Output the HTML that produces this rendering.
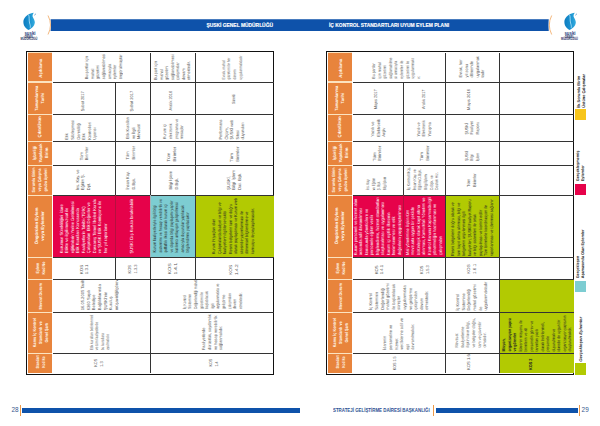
<!DOCTYPE html>
<html><head><meta charset="utf-8"><title>İç Kontrol Standartları Uyum Eylem Planı</title>
<style>
html,body{margin:0;padding:0;background:#fff;}
body{width:600px;height:426px;position:relative;overflow:hidden;font-family:"Liberation Sans",sans-serif;}
.rot{position:absolute;transform:rotate(-90deg);display:flex;align-items:center;box-sizing:border-box;white-space:nowrap;text-rendering:geometricPrecision;}
.t{font-size:4.3px;line-height:5.6px;color:#585858;}
.t>div{transform:scaleX(0.9);transform-origin:0 50%;}
.w{font-size:4.4px;line-height:5.5px;color:#fff;}
.w>div{transform:scaleX(0.9);transform-origin:0 50%;}
.h{font-size:4.3px;line-height:6px;color:#fffaf0;font-weight:bold;text-align:center;}
.h>div{transform:scaleX(0.85);}
.k{font-size:4.4px;line-height:5.5px;color:#222;}
.k>div{transform:scaleX(0.9);transform-origin:0 50%;}
.lg{font-size:4px;line-height:5px;color:#222;font-weight:bold;}
.lg>div{transform:scaleX(0.9);transform-origin:0 50%;}
</style></head><body>

<svg style="position:absolute;left:0;top:0" width="600" height="40" viewBox="0 0 600 40">
<path d="M50.6 19.2 Q51.4 25.1 50.6 31.1 L548.75 31.1 Q548.2 25.1 548.75 19.2 Z" fill="#0E52AA"/>
<path d="M48 15.5 Q53 25 48 34.5" stroke="#EE9A48" stroke-width="0.7" fill="none"/>
<path d="M551.7 15.5 Q546.9 25 551.7 34.5" stroke="#EE9A48" stroke-width="0.7" fill="none"/>
</svg>
<div style="position:absolute;left:150px;top:22.8px;width:123px;text-align:right;font:bold 5.2px/5px 'Liberation Sans',sans-serif;color:#fff;white-space:nowrap;transform:scaleX(0.944);transform-origin:100% 50%;-webkit-text-stroke:0.15px #fff">ŞUSKİ GENEL MÜDÜRLÜĞÜ</div>
<div style="position:absolute;left:328.9px;top:22.8px;width:160px;text-align:left;font:bold 5.2px/5px 'Liberation Sans',sans-serif;color:#fff;white-space:nowrap;transform:scaleX(0.946);transform-origin:0 50%;-webkit-text-stroke:0.15px #fff">İÇ KONTROL STANDARTLARI UYUM EYLEM PLANI</div>
<svg style="position:absolute;left:23px;top:11.5px" width="14" height="19" viewBox="0 0 14 19">
<defs><linearGradient id="lg23" x1="0" y1="0" x2="1" y2="0"><stop offset="0" stop-color="#0E7CC0"/><stop offset="0.55" stop-color="#1A92D0"/><stop offset="1" stop-color="#34ACDE"/></linearGradient></defs>
<path d="M10.8 0.7 C6.5 1.2 2.6 3.6 0.9 7.2 C-0.3 10 0.6 13.6 2.6 15.8 C3.5 16.8 4.4 17.6 5.4 18.1 C8.4 16.6 11.4 14.4 11.8 10.8 C12 8.6 10.6 6.8 9.8 5 C9.3 3.8 9.6 2 10.8 0.7 Z" fill="url(#lg23)"/>
<path d="M5.6 2.6 C6.6 5.2 5.8 8.4 6.6 11 C7.1 12.8 7.6 14.2 7.2 15.8" stroke="#CFF2FF" stroke-width="0.75" fill="none" opacity="0.95"/>
<path d="M11.4 3.2 Q12.3 2.2 12.9 2" stroke="#1F6FAF" stroke-width="0.7" fill="none"/>
</svg>
<div style="position:absolute;left:16.6px;top:31.9px;width:26px;text-align:center;font:bold 4.6px/4px 'Liberation Sans',sans-serif;color:#22407c;transform:scaleX(0.95)">şuski</div>
<div style="position:absolute;left:16px;top:36.9px;width:26px;text-align:center;font:bold 2.6px/2.6px 'Liberation Sans',sans-serif;color:#1f2f5c;letter-spacing:0px">GENEL MÜDÜRLÜĞÜ</div>
<svg style="position:absolute;left:563.5px;top:11.5px" width="14" height="19" viewBox="0 0 14 19">
<defs><linearGradient id="lg563" x1="0" y1="0" x2="1" y2="0"><stop offset="0" stop-color="#0E7CC0"/><stop offset="0.55" stop-color="#1A92D0"/><stop offset="1" stop-color="#34ACDE"/></linearGradient></defs>
<path d="M10.8 0.7 C6.5 1.2 2.6 3.6 0.9 7.2 C-0.3 10 0.6 13.6 2.6 15.8 C3.5 16.8 4.4 17.6 5.4 18.1 C8.4 16.6 11.4 14.4 11.8 10.8 C12 8.6 10.6 6.8 9.8 5 C9.3 3.8 9.6 2 10.8 0.7 Z" fill="url(#lg563)"/>
<path d="M5.6 2.6 C6.6 5.2 5.8 8.4 6.6 11 C7.1 12.8 7.6 14.2 7.2 15.8" stroke="#CFF2FF" stroke-width="0.75" fill="none" opacity="0.95"/>
<path d="M11.4 3.2 Q12.3 2.2 12.9 2" stroke="#1F6FAF" stroke-width="0.7" fill="none"/>
</svg>
<div style="position:absolute;left:557.1px;top:31.9px;width:26px;text-align:center;font:bold 4.6px/4px 'Liberation Sans',sans-serif;color:#22407c;transform:scaleX(0.95)">şuski</div>
<div style="position:absolute;left:556.5px;top:36.9px;width:26px;text-align:center;font:bold 2.6px/2.6px 'Liberation Sans',sans-serif;color:#1f2f5c;letter-spacing:0px">GENEL MÜDÜRLÜĞÜ</div>
<div style="position:absolute;left:22px;top:408px;width:278px;height:5px;background:#0E52AA"></div>
<div style="position:absolute;left:20.2px;top:405px;width:0.6px;height:11px;background:#EE9A48"></div>
<div style="position:absolute;left:4px;top:406.6px;width:14.6px;text-align:right;font:6.4px/6px 'Liberation Sans',sans-serif;color:#36598f">28</div>
<div style="position:absolute;left:436px;top:408px;width:141.5px;height:5px;background:#0E52AA"></div>
<div style="position:absolute;left:433.2px;top:405px;width:0.6px;height:11px;background:#EE9A48"></div>
<div style="position:absolute;left:579px;top:405px;width:0.6px;height:11px;background:#EE9A48"></div>
<div style="position:absolute;left:581.6px;top:406.6px;width:14px;text-align:left;font:6.4px/6px 'Liberation Sans',sans-serif;color:#36598f">29</div>
<div style="position:absolute;left:332.8px;top:409.3px;width:120px;font:bold 4.8px/4px 'Liberation Sans',sans-serif;color:#2d4f93;white-space:nowrap;transform:scaleX(0.917);transform-origin:0 50%">STRATEJİ GELİŞTİRME DAİRESİ BAŞKANLIĞI</div>
<div style="position:absolute;left:25.70px;top:50.70px;width:248.50px;height:324.30px;border:1.2px solid #111;box-sizing:border-box"></div>
<div style="position:absolute;left:27.90px;top:52.40px;width:24.50px;height:320.60px;background:#FCE3C0;"></div>
<div style="position:absolute;left:27.90px;top:52.60px;width:24.50px;height:28.90px;background:#E8843C;"></div>
<div class="rot h" style="left:26.51px;top:55.70px;width:28.90px;height:24.50px;padding-left:0px;justify-content:center;"><div style="transform:scaleX(0.994)">Açıklama</div></div>
<div style="position:absolute;left:27.90px;top:82.50px;width:24.50px;height:31.00px;background:#E8843C;"></div>
<div class="rot h" style="left:25.31px;top:85.60px;width:31.00px;height:24.50px;padding-left:0px;justify-content:center;"><div style="transform:scaleX(0.921)">Tamamlanma<br>Tarihi</div></div>
<div style="position:absolute;left:27.90px;top:114.50px;width:24.50px;height:26.00px;background:#E8843C;"></div>
<div class="rot h" style="left:27.06px;top:114.71px;width:26.00px;height:24.50px;padding-left:0px;justify-content:center;"><div style="transform:scaleX(1.029)">Çıktı/Ürün</div></div>
<div style="position:absolute;left:27.90px;top:141.50px;width:24.50px;height:23.00px;background:#E8843C;"></div>
<div class="rot h" style="left:29.77px;top:141.44px;width:23.00px;height:24.50px;padding-left:0px;justify-content:center;"><div style="transform:scaleX(0.962)">İşbirliği<br>Yapılacak<br>Birim</div></div>
<div style="position:absolute;left:27.90px;top:165.50px;width:24.50px;height:29.00px;background:#E8843C;"></div>
<div class="rot h" style="left:25.74px;top:167.54px;width:29.00px;height:24.50px;padding-left:0px;justify-content:center;"><div style="transform:scaleX(0.840)">Sorumlu Birim<br>veya Çalışma<br>grubu üyeleri</div></div>
<div style="position:absolute;left:27.90px;top:195.50px;width:24.50px;height:61.00px;background:#E8843C;"></div>
<div class="rot h" style="left:10.33px;top:214.38px;width:61.00px;height:24.50px;padding-left:0px;justify-content:center;"><div style="transform:scaleX(1.032)">Öngörülen Eylem<br>veya Eylemler</div></div>
<div style="position:absolute;left:27.90px;top:257.50px;width:24.50px;height:21.00px;background:#E8843C;"></div>
<div class="rot h" style="left:30.77px;top:256.26px;width:21.00px;height:24.50px;padding-left:0px;justify-content:center;"><div style="transform:scaleX(0.850)">Eylem<br>Kod No</div></div>
<div style="position:absolute;left:27.90px;top:279.50px;width:24.50px;height:32.00px;background:#E8843C;"></div>
<div class="rot h" style="left:25.05px;top:283.73px;width:32.00px;height:24.50px;padding-left:0px;justify-content:center;"><div style="transform:scaleX(0.879)">Mevcut Durum</div></div>
<div style="position:absolute;left:27.90px;top:312.50px;width:24.50px;height:40.00px;background:#E8843C;"></div>
<div class="rot h" style="left:21.05px;top:319.80px;width:40.00px;height:24.50px;padding-left:0px;justify-content:center;"><div style="transform:scaleX(0.874)">Kamu İç Kontrol<br>Standardı ve<br>Genel Şartı</div></div>
<div style="position:absolute;left:27.90px;top:353.50px;width:24.50px;height:19.00px;background:#E8843C;"></div>
<div class="rot h" style="left:32.00px;top:350.39px;width:19.00px;height:24.50px;padding-left:0px;justify-content:center;"><div style="transform:scaleX(0.751)">Standart<br>Kod No</div></div>
<div style="position:absolute;left:53.00px;top:195.00px;width:62.50px;height:62.00px;background:#E6024A;"></div>
<div style="position:absolute;left:115.50px;top:195.00px;width:35.00px;height:62.00px;background:#E6024A;"></div>
<div style="position:absolute;left:150.50px;top:195.00px;width:45.00px;height:62.00px;background:#7DCDD2;"></div>
<div style="position:absolute;left:195.50px;top:195.00px;width:78.10px;height:62.00px;background:#B2CA02;"></div>
<div style="position:absolute;left:53.00px;top:81.50px;width:220.60px;height:1px;background:#333333"></div>
<div style="position:absolute;left:53.00px;top:113.50px;width:220.60px;height:1px;background:#333333"></div>
<div style="position:absolute;left:53.00px;top:140.50px;width:220.60px;height:1px;background:#333333"></div>
<div style="position:absolute;left:53.00px;top:164.50px;width:220.60px;height:1px;background:#333333"></div>
<div style="position:absolute;left:53.00px;top:194.50px;width:220.60px;height:1px;background:#333333"></div>
<div style="position:absolute;left:53.00px;top:256.50px;width:220.60px;height:1px;background:#333333"></div>
<div style="position:absolute;left:53.00px;top:278.50px;width:220.60px;height:1px;background:#333333"></div>
<div style="position:absolute;left:53.00px;top:311.50px;width:220.60px;height:1px;background:#333333"></div>
<div style="position:absolute;left:53.00px;top:352.50px;width:220.60px;height:1px;background:#333333"></div>
<div style="position:absolute;left:150.00px;top:53.00px;width:1px;height:29.00px;background:#333333"></div>
<div style="position:absolute;left:195.00px;top:53.00px;width:1px;height:29.00px;background:#333333"></div>
<div style="position:absolute;left:115.00px;top:82.00px;width:1px;height:32.00px;background:#333333"></div>
<div style="position:absolute;left:150.00px;top:82.00px;width:1px;height:32.00px;background:#333333"></div>
<div style="position:absolute;left:195.00px;top:82.00px;width:1px;height:32.00px;background:#333333"></div>
<div style="position:absolute;left:115.00px;top:114.00px;width:1px;height:27.00px;background:#333333"></div>
<div style="position:absolute;left:150.00px;top:114.00px;width:1px;height:27.00px;background:#333333"></div>
<div style="position:absolute;left:195.00px;top:114.00px;width:1px;height:27.00px;background:#333333"></div>
<div style="position:absolute;left:115.00px;top:141.00px;width:1px;height:24.00px;background:#333333"></div>
<div style="position:absolute;left:150.00px;top:141.00px;width:1px;height:24.00px;background:#333333"></div>
<div style="position:absolute;left:195.00px;top:141.00px;width:1px;height:24.00px;background:#333333"></div>
<div style="position:absolute;left:115.00px;top:165.00px;width:1px;height:30.00px;background:#333333"></div>
<div style="position:absolute;left:150.00px;top:165.00px;width:1px;height:30.00px;background:#333333"></div>
<div style="position:absolute;left:195.00px;top:165.00px;width:1px;height:30.00px;background:#333333"></div>
<div style="position:absolute;left:115.00px;top:195.00px;width:1px;height:62.00px;background:#B5103F"></div>
<div style="position:absolute;left:150.00px;top:195.00px;width:1px;height:62.00px;background:#a9b3b8"></div>
<div style="position:absolute;left:195.00px;top:195.00px;width:1px;height:62.00px;background:#333333"></div>
<div style="position:absolute;left:115.00px;top:257.00px;width:1px;height:22.00px;background:#333333"></div>
<div style="position:absolute;left:150.00px;top:257.00px;width:1px;height:22.00px;background:#333333"></div>
<div style="position:absolute;left:195.00px;top:257.00px;width:1px;height:22.00px;background:#333333"></div>
<div style="position:absolute;left:150.00px;top:279.00px;width:1px;height:33.00px;background:#333333"></div>
<div style="position:absolute;left:150.00px;top:312.00px;width:1px;height:41.00px;background:#333333"></div>
<div style="position:absolute;left:150.00px;top:353.00px;width:1px;height:20.00px;background:#333333"></div>
<div class="rot t" style="left:89.23px;top:19.29px;width:29.00px;height:97.50px;padding-left:2.5px;justify-content:flex-start;"><div style="transform:scaleX(0.902)">Bu şartlar için<br>mahal<br>gözetimi<br>sağlanabilmesi<br>amacıyla<br>eylemler<br>öngörülmüştür</div></div>
<div class="rot t" style="left:158.23px;top:45.90px;width:29.00px;height:45.00px;padding-left:2.5px;justify-content:flex-start;"><div style="transform:scaleX(0.903)">Bu şart için<br>mahal<br>gözetimi<br>sağlanabilmesi<br>çalışmalar<br>devam<br>etmektedir.</div></div>
<div class="rot t" style="left:218.00px;top:29.35px;width:29.00px;height:78.10px;padding-left:2.5px;justify-content:flex-start;"><div style="transform:scaleX(0.758)">Evrak, mahal<br>gözetimi ile her<br>dönem<br>uygulanmaktadır</div></div>
<div class="rot t" style="left:67.17px;top:66.75px;width:32.00px;height:62.50px;padding-left:2.5px;justify-content:flex-start;"><div style="transform:scaleX(0.902)">Şubat 2017</div></div>
<div class="rot t" style="left:114.75px;top:80.50px;width:32.00px;height:35.00px;padding-left:2.5px;justify-content:flex-start;"><div style="transform:scaleX(0.938)">Şubat 2017</div></div>
<div class="rot t" style="left:154.12px;top:74.78px;width:32.00px;height:45.00px;padding-left:2.5px;justify-content:flex-start;"><div style="transform:scaleX(0.899)">Aralık 2016</div></div>
<div class="rot t" style="left:217.92px;top:51.66px;width:32.00px;height:78.10px;padding-left:2.5px;justify-content:flex-start;"><div style="transform:scaleX(0.772)">Sürekli</div></div>
<div class="rot t" style="left:68.29px;top:97.60px;width:27.00px;height:62.50px;padding-left:2.5px;justify-content:flex-start;"><div style="transform:scaleX(0.907)">Etik<br>Sözleşmesi<br>Gerekliliği<br>Etik<br>Kontrolleri<br>Uyarısı</div></div>
<div class="rot t" style="left:119.71px;top:111.35px;width:27.00px;height:35.00px;padding-left:2.5px;justify-content:flex-start;"><div style="transform:scaleX(0.905)">Etik Kuralları<br>ve İlgili<br>Mevzuat</div></div>
<div class="rot t" style="left:159.86px;top:106.35px;width:27.00px;height:45.00px;padding-left:2.5px;justify-content:flex-start;"><div style="transform:scaleX(0.844)">Kurum içi<br>elektronik<br>programa ve<br>mesajlar</div></div>
<div class="rot t" style="left:218.71px;top:89.80px;width:27.00px;height:78.10px;padding-left:2.5px;justify-content:flex-start;"><div style="transform:scaleX(0.900)">Performans<br>Ölçüm,<br>ŞUSKİ web<br>Sitesi<br>duyuruları</div></div>
<div class="rot t" style="left:71.59px;top:120.22px;width:24.00px;height:62.50px;padding-left:2.5px;justify-content:flex-start;"><div style="transform:scaleX(0.925)">Tüm<br>Birimler</div></div>
<div class="rot t" style="left:117.85px;top:133.07px;width:24.00px;height:35.00px;padding-left:2.5px;justify-content:flex-start;"><div style="transform:scaleX(0.929)">Tüm<br>Birimler</div></div>
<div class="rot t" style="left:159.20px;top:129.60px;width:24.00px;height:45.00px;padding-left:2.5px;justify-content:flex-start;"><div style="transform:scaleX(1.005)">Tüm<br>Birimler</div></div>
<div class="rot t" style="left:222.77px;top:113.95px;width:24.00px;height:78.10px;padding-left:2.5px;justify-content:flex-start;"><div style="transform:scaleX(1.062)">Tüm<br>Birimler</div></div>
<div class="rot t" style="left:68.11px;top:147.40px;width:30.00px;height:62.50px;padding-left:2.5px;justify-content:flex-start;"><div style="transform:scaleX(0.940)">İns. Kay. ve<br>Eğitim Ş.<br>Dpt.</div></div>
<div class="rot t" style="left:115.09px;top:159.80px;width:30.00px;height:35.00px;padding-left:2.5px;justify-content:flex-start;"><div style="transform:scaleX(0.903)">İnsan Kay.<br>D.Bşk.</div></div>
<div class="rot t" style="left:157.76px;top:154.80px;width:30.00px;height:45.00px;padding-left:2.5px;justify-content:flex-start;"><div style="transform:scaleX(0.945)">Bilgi İşlem<br>D.Bşk.</div></div>
<div class="rot t" style="left:219.25px;top:139.15px;width:30.00px;height:78.10px;padding-left:2.5px;justify-content:flex-start;"><div style="transform:scaleX(1.021)">ŞUSKİ,<br>Bilgi İşlem<br>Dai. Bşk.</div></div>
<div class="rot w" style="left:51.72px;top:194.30px;width:62.00px;height:62.50px;padding-left:2.5px;justify-content:flex-start;"><div style="transform:scaleX(0.934)">Kurumun Sürekliliğini İdare<br>Etikte ve ilgili mevzuat ile<br>eğitimlerin Yerine Getirilmesi<br>Etik Kuralları Konusunda<br>Faaliyetlerin Takibi (TÜİK)<br>Çalışmaları Etik Değerler ve<br>Davranış Temel İlkeleri Kurulu<br>ve ŞUSKİ Etik Komisyonu ile<br>her yıl raporlanır</div></div>
<div class="rot w" style="left:100.11px;top:208.14px;width:62.00px;height:35.00px;padding-left:2.5px;justify-content:flex-start;"><div style="transform:scaleX(0.953)">ŞUSKİ Dış Kurula bırakılabilir</div></div>
<div class="rot k" style="left:139.99px;top:202.24px;width:62.00px;height:45.00px;padding-left:2.5px;justify-content:flex-start;"><div style="transform:scaleX(0.833)">Kurum faaliyetleriyle ilgili bilgi<br>sistemine ve hesap verebilirlik ve<br>şeffaflık ilkesi olarak kurum içi<br>ve dışında bilgi paylaşımı yapılır<br>katılımcı anlayışın geliştirilmesi<br>amacıyla duyurular yapılacak<br>bilgilendirme yapılacaktır</div></div>
<div class="rot k" style="left:202.05px;top:187.22px;width:62.00px;height:78.10px;padding-left:2.5px;justify-content:flex-start;"><div style="transform:scaleX(0.835)">Kurum ihtiyaçları olan<br>Çalışmalarda faaliyet ve bilgi ve<br>faaliyetlerin ilgililerce takibi<br>Resmi belgelerin tam ve doğru<br>olarak paylaşılması ve Kurum web<br>sitesinde yayımlanması ile<br>dönemsel bilgilendirme ve<br>kamuoyu ile paylaşılmasıdır.</div></div>
<div class="rot t" style="left:73.04px;top:235.22px;width:22.00px;height:62.50px;padding-left:2.5px;justify-content:flex-start;"><div style="transform:scaleX(1.029)">KOS<br>1.3.1</div></div>
<div class="rot t" style="left:120.65px;top:248.07px;width:22.00px;height:35.00px;padding-left:2.5px;justify-content:flex-start;"><div style="transform:scaleX(0.945)">KOS<br>1.3.3</div></div>
<div class="rot t" style="left:161.01px;top:244.38px;width:22.00px;height:45.00px;padding-left:2.5px;justify-content:flex-start;"><div style="transform:scaleX(1.232)">KOS<br>1.4.1</div></div>
<div class="rot t" style="left:223.31px;top:227.83px;width:22.00px;height:78.10px;padding-left:2.5px;justify-content:flex-start;"><div style="transform:scaleX(1.120)">KOS<br>1.4.2</div></div>
<div class="rot t" style="left:83.00px;top:247.83px;width:33.00px;height:97.50px;padding-left:2.5px;justify-content:flex-start;"><div style="transform:scaleX(0.952)">16.05.2005 Tarih<br>6360 Sayılı<br>Belediye<br>Bağlılıklarında<br>ŞUSKİ'nin<br>Kuruluş<br>müşavirliği/görev</div></div>
<div class="rot t" style="left:195.55px;top:234.04px;width:33.00px;height:123.10px;padding-left:2.5px;justify-content:flex-start;"><div style="transform:scaleX(0.785)">İç Kontrol<br>Sistemine<br>Değerlendiği mahal<br>gözetimi ile<br>başlatılacak<br>ilgili<br>uygulanmakta ve<br>geliştirme<br>çalışmaları<br>devam<br>etmektedir.</div></div>
<div class="rot t" style="left:79.45px;top:284.47px;width:41.00px;height:97.50px;padding-left:2.5px;justify-content:flex-start;"><div style="transform:scaleX(0.762)">Etik kuralları belirlenmeli<br>ve tüm faaliyetlerde<br>bu kurallara<br>uyulmalıdır.</div></div>
<div class="rot t" style="left:192.00px;top:271.40px;width:41.00px;height:123.10px;padding-left:2.5px;justify-content:flex-start;"><div style="transform:scaleX(0.915)">Faaliyetlerde<br>dürüstlük, saydamlık<br>ve hesap verebilirlik<br>sağlanmalıdır.</div></div>
<div class="rot t" style="left:89.29px;top:311.10px;width:20.00px;height:97.50px;padding-left:2.5px;justify-content:flex-start;"><div style="transform:scaleX(0.889)">KOS<br>1.3</div></div>
<div class="rot t" style="left:204.30px;top:298.03px;width:20.00px;height:123.10px;padding-left:2.5px;justify-content:flex-start;"><div style="transform:scaleX(0.868)">KOS<br>1.4</div></div>
<div style="position:absolute;left:325.70px;top:50.70px;width:248.50px;height:324.30px;border:1.2px solid #111;box-sizing:border-box"></div>
<div style="position:absolute;left:327.90px;top:52.40px;width:24.50px;height:320.60px;background:#FCE3C0;"></div>
<div style="position:absolute;left:327.90px;top:52.60px;width:24.50px;height:28.90px;background:#E8843C;"></div>
<div class="rot h" style="left:326.51px;top:55.70px;width:28.90px;height:24.50px;padding-left:0px;justify-content:center;"><div style="transform:scaleX(0.994)">Açıklama</div></div>
<div style="position:absolute;left:327.90px;top:82.50px;width:24.50px;height:31.00px;background:#E8843C;"></div>
<div class="rot h" style="left:325.31px;top:85.60px;width:31.00px;height:24.50px;padding-left:0px;justify-content:center;"><div style="transform:scaleX(0.921)">Tamamlanma<br>Tarihi</div></div>
<div style="position:absolute;left:327.90px;top:114.50px;width:24.50px;height:26.00px;background:#E8843C;"></div>
<div class="rot h" style="left:327.06px;top:114.71px;width:26.00px;height:24.50px;padding-left:0px;justify-content:center;"><div style="transform:scaleX(1.029)">Çıktı/Ürün</div></div>
<div style="position:absolute;left:327.90px;top:141.50px;width:24.50px;height:23.00px;background:#E8843C;"></div>
<div class="rot h" style="left:329.77px;top:141.44px;width:23.00px;height:24.50px;padding-left:0px;justify-content:center;"><div style="transform:scaleX(0.962)">İşbirliği<br>Yapılacak<br>Birim</div></div>
<div style="position:absolute;left:327.90px;top:165.50px;width:24.50px;height:29.00px;background:#E8843C;"></div>
<div class="rot h" style="left:325.74px;top:167.54px;width:29.00px;height:24.50px;padding-left:0px;justify-content:center;"><div style="transform:scaleX(0.840)">Sorumlu Birim<br>veya Çalışma<br>grubu üyeleri</div></div>
<div style="position:absolute;left:327.90px;top:195.50px;width:24.50px;height:61.00px;background:#E8843C;"></div>
<div class="rot h" style="left:310.33px;top:214.38px;width:61.00px;height:24.50px;padding-left:0px;justify-content:center;"><div style="transform:scaleX(1.032)">Öngörülen Eylem<br>veya Eylemler</div></div>
<div style="position:absolute;left:327.90px;top:257.50px;width:24.50px;height:21.00px;background:#E8843C;"></div>
<div class="rot h" style="left:330.77px;top:256.26px;width:21.00px;height:24.50px;padding-left:0px;justify-content:center;"><div style="transform:scaleX(0.850)">Eylem<br>Kod No</div></div>
<div style="position:absolute;left:327.90px;top:279.50px;width:24.50px;height:32.00px;background:#E8843C;"></div>
<div class="rot h" style="left:325.05px;top:283.73px;width:32.00px;height:24.50px;padding-left:0px;justify-content:center;"><div style="transform:scaleX(0.879)">Mevcut Durum</div></div>
<div style="position:absolute;left:327.90px;top:312.50px;width:24.50px;height:40.00px;background:#E8843C;"></div>
<div class="rot h" style="left:321.05px;top:319.80px;width:40.00px;height:24.50px;padding-left:0px;justify-content:center;"><div style="transform:scaleX(0.874)">Kamu İç Kontrol<br>Standardı ve<br>Genel Şartı</div></div>
<div style="position:absolute;left:327.90px;top:353.50px;width:24.50px;height:19.00px;background:#E8843C;"></div>
<div class="rot h" style="left:332.00px;top:350.39px;width:19.00px;height:24.50px;padding-left:0px;justify-content:center;"><div style="transform:scaleX(0.751)">Standart<br>Kod No</div></div>
<div style="position:absolute;left:353.00px;top:195.00px;width:50.60px;height:62.00px;background:#E6024A;"></div>
<div style="position:absolute;left:403.60px;top:195.00px;width:41.90px;height:62.00px;background:#E6024A;"></div>
<div style="position:absolute;left:445.50px;top:195.00px;width:54.00px;height:62.00px;background:#B2CA02;"></div>
<div style="position:absolute;left:499.50px;top:279.00px;width:74.10px;height:33.00px;background:#B2CA02;"></div>
<div style="position:absolute;left:499.50px;top:312.00px;width:74.10px;height:41.00px;background:#B2CA02;"></div>
<div style="position:absolute;left:499.50px;top:353.00px;width:74.10px;height:20.00px;background:#B2CA02;"></div>
<div style="position:absolute;left:353.00px;top:81.50px;width:220.60px;height:1px;background:#333333"></div>
<div style="position:absolute;left:353.00px;top:113.50px;width:220.60px;height:1px;background:#333333"></div>
<div style="position:absolute;left:353.00px;top:140.50px;width:220.60px;height:1px;background:#333333"></div>
<div style="position:absolute;left:353.00px;top:164.50px;width:220.60px;height:1px;background:#333333"></div>
<div style="position:absolute;left:353.00px;top:194.50px;width:220.60px;height:1px;background:#333333"></div>
<div style="position:absolute;left:353.00px;top:256.50px;width:220.60px;height:1px;background:#333333"></div>
<div style="position:absolute;left:353.00px;top:278.50px;width:220.60px;height:1px;background:#333333"></div>
<div style="position:absolute;left:353.00px;top:311.50px;width:220.60px;height:1px;background:#333333"></div>
<div style="position:absolute;left:353.00px;top:352.50px;width:220.60px;height:1px;background:#333333"></div>
<div style="position:absolute;left:445.00px;top:53.00px;width:1px;height:29.00px;background:#333333"></div>
<div style="position:absolute;left:499.00px;top:53.00px;width:1px;height:29.00px;background:#333333"></div>
<div style="position:absolute;left:403.10px;top:82.00px;width:1px;height:32.00px;background:#333333"></div>
<div style="position:absolute;left:445.00px;top:82.00px;width:1px;height:32.00px;background:#333333"></div>
<div style="position:absolute;left:499.00px;top:82.00px;width:1px;height:32.00px;background:#333333"></div>
<div style="position:absolute;left:403.10px;top:114.00px;width:1px;height:27.00px;background:#333333"></div>
<div style="position:absolute;left:445.00px;top:114.00px;width:1px;height:27.00px;background:#333333"></div>
<div style="position:absolute;left:499.00px;top:114.00px;width:1px;height:27.00px;background:#333333"></div>
<div style="position:absolute;left:403.10px;top:141.00px;width:1px;height:24.00px;background:#333333"></div>
<div style="position:absolute;left:445.00px;top:141.00px;width:1px;height:24.00px;background:#333333"></div>
<div style="position:absolute;left:499.00px;top:141.00px;width:1px;height:24.00px;background:#333333"></div>
<div style="position:absolute;left:403.10px;top:165.00px;width:1px;height:30.00px;background:#333333"></div>
<div style="position:absolute;left:445.00px;top:165.00px;width:1px;height:30.00px;background:#333333"></div>
<div style="position:absolute;left:499.00px;top:165.00px;width:1px;height:30.00px;background:#333333"></div>
<div style="position:absolute;left:403.10px;top:195.00px;width:1px;height:62.00px;background:#B5103F"></div>
<div style="position:absolute;left:445.00px;top:195.00px;width:1px;height:62.00px;background:#333333"></div>
<div style="position:absolute;left:499.00px;top:195.00px;width:1px;height:62.00px;background:#333333"></div>
<div style="position:absolute;left:403.10px;top:257.00px;width:1px;height:22.00px;background:#333333"></div>
<div style="position:absolute;left:445.00px;top:257.00px;width:1px;height:22.00px;background:#333333"></div>
<div style="position:absolute;left:499.00px;top:257.00px;width:1px;height:22.00px;background:#333333"></div>
<div style="position:absolute;left:445.00px;top:279.00px;width:1px;height:33.00px;background:#333333"></div>
<div style="position:absolute;left:499.00px;top:279.00px;width:1px;height:33.00px;background:#333333"></div>
<div style="position:absolute;left:445.00px;top:312.00px;width:1px;height:41.00px;background:#333333"></div>
<div style="position:absolute;left:499.00px;top:312.00px;width:1px;height:41.00px;background:#333333"></div>
<div style="position:absolute;left:445.00px;top:353.00px;width:1px;height:20.00px;background:#333333"></div>
<div style="position:absolute;left:499.00px;top:353.00px;width:1px;height:20.00px;background:#333333"></div>
<div class="rot t" style="left:382.14px;top:20.62px;width:29.00px;height:92.50px;padding-left:2.5px;justify-content:flex-start;"><div style="transform:scaleX(0.844)">Bu şartlar<br>için mahal<br>gözetimi<br>sağlanabilme<br>si amacıyla<br>eylemler ile<br>gözetimi ile<br>uygulanmakt<br>ır.</div></div>
<div class="rot t" style="left:456.65px;top:39.15px;width:29.00px;height:54.00px;padding-left:2.5px;justify-content:flex-start;"><div style="transform:scaleX(0.921)">Evrak, her<br>yıl sonu<br>dönemde<br>uygulanmak<br>tadır</div></div>
<div class="rot t" style="left:359.42px;top:70.90px;width:32.00px;height:50.60px;padding-left:2.5px;justify-content:flex-start;"><div style="transform:scaleX(0.894)">Mayıs 2017</div></div>
<div class="rot t" style="left:407.56px;top:75.25px;width:32.00px;height:41.90px;padding-left:2.5px;justify-content:flex-start;"><div style="transform:scaleX(0.894)">Aralık 2017</div></div>
<div class="rot t" style="left:453.35px;top:69.65px;width:32.00px;height:54.00px;padding-left:2.5px;justify-content:flex-start;"><div style="transform:scaleX(0.948)">Mayıs 2016</div></div>
<div class="rot t" style="left:364.62px;top:101.12px;width:27.00px;height:50.60px;padding-left:2.5px;justify-content:flex-start;"><div style="transform:scaleX(0.941)">Yazılı ve<br>Elektronik<br>Arşiv</div></div>
<div class="rot t" style="left:409.52px;top:104.57px;width:27.00px;height:41.90px;padding-left:2.5px;justify-content:flex-start;"><div style="transform:scaleX(0.865)">Yazılı ve<br>Elektronik<br>Yazışma</div></div>
<div class="rot t" style="left:458.10px;top:96.72px;width:27.00px;height:54.00px;padding-left:2.5px;justify-content:flex-start;"><div style="transform:scaleX(0.889)">ŞUSKİ<br>Faaliyet<br>Raporu</div></div>
<div class="rot t" style="left:365.40px;top:126.62px;width:24.00px;height:50.60px;padding-left:2.5px;justify-content:flex-start;"><div style="transform:scaleX(1.071)">Tüm<br>Birimler</div></div>
<div class="rot t" style="left:413.18px;top:130.97px;width:24.00px;height:41.90px;padding-left:2.5px;justify-content:flex-start;"><div style="transform:scaleX(1.060)">Tüm<br>Birimler</div></div>
<div class="rot t" style="left:459.60px;top:124.56px;width:24.00px;height:54.00px;padding-left:2.5px;justify-content:flex-start;"><div style="transform:scaleX(0.788)">ŞUSKİ<br>Bilgi<br>İşlem</div></div>
<div class="rot t" style="left:361.47px;top:152.90px;width:30.00px;height:50.60px;padding-left:2.5px;justify-content:flex-start;"><div style="transform:scaleX(0.697)">İns. Kay.<br>ve Eğitim<br>Ş. Bşk.<br>Bilgi İşlem</div></div>
<div class="rot t" style="left:407.97px;top:157.25px;width:30.00px;height:41.90px;padding-left:2.5px;justify-content:flex-start;"><div style="transform:scaleX(0.801)">İç Kontrol Müş.<br>İnsan Kay. ve<br>Eğitim D.Bşk.<br>Bilgi İşlem<br>D.Bşk. ve<br>Destek Hiz.</div></div>
<div class="rot t" style="left:457.23px;top:147.78px;width:30.00px;height:54.00px;padding-left:2.5px;justify-content:flex-start;"><div style="transform:scaleX(0.932)">Tüm<br>Birimler</div></div>
<div class="rot w" style="left:345.95px;top:201.78px;width:62.00px;height:50.60px;padding-left:2.5px;justify-content:flex-start;"><div style="transform:scaleX(0.918)">Kurum personeli ve hizmet alan<br>arasında adil davranılması<br>konusunda yöneticilere ve<br>personele eğitim verilir<br>bilgilendirme, hizmet standartları<br>oluşturulması ve uygulanması<br>kurum içi eşitlik ilkesinin<br>benimsenmesi ve etik<br>değerlerin yaygınlaştırılması</div></div>
<div class="rot w" style="left:393.40px;top:206.13px;width:62.00px;height:41.90px;padding-left:2.5px;justify-content:flex-start;"><div style="transform:scaleX(0.899)">Mal yönetimine ilişkin tüm<br>mevzuata uygun bir şekilde<br>bütünleşik olarak kayıt altına<br>alınması, Kamu Mali Yönetimi ve<br>Kontrol Kanunu Kapsamında ilgili<br>yönetmeliğin hazırlanması ve<br>çalışmaları</div></div>
<div class="rot k" style="left:441.05px;top:200.80px;width:62.00px;height:54.00px;padding-left:2.5px;justify-content:flex-start;"><div style="transform:scaleX(0.836)">Resmi belgelerin doğru olarak ve<br>tam kayıt altına alınması, bilgi ve<br>belgelerin arşivlenmesi ilgili<br>faaliyetleri, ŞUSKİ Faaliyet Raporu<br>ve bilgi sistemleri ile ortak<br>paylaşılması ve kontrol edilir<br>Tüm birimlerle koordinasyon ile<br>raporlanması ve izlenmesi sağlanır</div></div>
<div class="rot t" style="left:367.98px;top:240.72px;width:22.00px;height:50.60px;padding-left:2.5px;justify-content:flex-start;"><div style="transform:scaleX(0.994)">KOS<br>1.4.1</div></div>
<div class="rot t" style="left:414.00px;top:245.07px;width:22.00px;height:41.90px;padding-left:2.5px;justify-content:flex-start;"><div style="transform:scaleX(0.902)">KOS<br>1.5.3</div></div>
<div class="rot t" style="left:460.96px;top:239.20px;width:22.00px;height:54.00px;padding-left:2.5px;justify-content:flex-start;"><div style="transform:scaleX(1.068)">KOS<br>1.6.1</div></div>
<div class="rot t" style="left:382.75px;top:249.97px;width:33.00px;height:92.50px;padding-left:2.5px;justify-content:flex-start;"><div style="transform:scaleX(0.910)">İç Kontrol<br>Sisteminin<br>Değerlendiği<br>mahal gözetimi<br>ile başlatılacak<br>süreçler<br>uygulanmakta<br>ve geliştirme<br>çalışmaları<br>devam<br>etmektedir.</div></div>
<div class="rot t" style="left:454.83px;top:270.03px;width:33.00px;height:54.00px;padding-left:2.5px;justify-content:flex-start;"><div style="transform:scaleX(0.906)">İç Kontrol<br>Sistemine<br>Değerlendiği<br>mahal gözetimi<br>ile<br>uygulanmaktadır</div></div>
<div class="rot t" style="left:378.75px;top:285.53px;width:41.00px;height:92.50px;padding-left:2.5px;justify-content:flex-start;"><div style="transform:scaleX(0.886)">İdarenin<br>personeline ve<br>hizmet<br>verdiklerine adil ve<br>eşit<br>davranılmalıdır.</div></div>
<div class="rot t" style="left:450.47px;top:302.98px;width:41.00px;height:54.00px;padding-left:2.5px;justify-content:flex-start;"><div style="transform:scaleX(0.860)">Mevzuat<br>faaliyetlerine<br>ilişkin ilave bilgi,<br>ve belgeler doğru,<br>tam ve güvenilir<br>olmalıdır.</div></div>
<div class="rot k" style="left:516.50px;top:296.71px;width:41.00px;height:74.10px;padding-left:2.5px;justify-content:flex-start;"><div style="transform:scaleX(0.801)"><b>Misyon,<br>organizasyon yapısı<br>ve görevler</b><br>İdarenin misyonu ile<br>birimlerin ve alt<br>personelin görev ve<br>tanımları yazılı<br>olarak belirlenmeli,<br>personele<br>duyurulmalı ve<br>idarede de uygun bir<br>organizasyon yapısının<br>oluşturulmalıdır.</div></div>
<div class="rot t" style="left:385.38px;top:317.29px;width:20.00px;height:92.50px;padding-left:2.5px;justify-content:flex-start;"><div style="transform:scaleX(0.850)">KOS 1.5</div></div>
<div class="rot t" style="left:459.44px;top:336.00px;width:20.00px;height:54.00px;padding-left:2.5px;justify-content:flex-start;"><div style="transform:scaleX(0.977)">KOS 1.6</div></div>
<div class="rot k" style="left:520.79px;top:325.95px;width:20.00px;height:74.10px;padding-left:2.5px;justify-content:flex-start;"><div style="transform:scaleX(0.866)"><b>KOS 2</b></div></div>
<div style="position:absolute;left:575.30px;top:109.20px;width:11.00px;height:10.60px;background:#F7C51B;"></div>
<div class="rot lg" style="left:563.70px;top:85.15px;width:34.00px;height:11.70px;padding-left:0px;justify-content:flex-start;"><div style="transform:scaleX(0.970)">İlk Sorumlu Birim<br>Üstüne Çalışmalar</div></div>
<div style="position:absolute;left:575.30px;top:183.50px;width:11.00px;height:11.00px;background:#E6024A;"></div>
<div class="rot lg" style="left:563.85px;top:160.29px;width:31.00px;height:11.70px;padding-left:0px;justify-content:flex-start;"><div style="transform:scaleX(0.967)">Gerçekleşmemiş<br>Eylemler</div></div>
<div style="position:absolute;left:575.30px;top:280.50px;width:11.00px;height:11.80px;background:#7DCDD2;"></div>
<div class="rot lg" style="left:554.85px;top:248.38px;width:49.00px;height:11.70px;padding-left:0px;justify-content:flex-start;"><div style="transform:scaleX(0.949)">Gerçekleşen<br>Aşamasında Olan Eylemler</div></div>
<div style="position:absolute;left:575.30px;top:363.40px;width:11.00px;height:11.20px;background:#B2CA02;"></div>
<div class="rot lg" style="left:557.70px;top:332.70px;width:46.00px;height:11.70px;padding-left:0px;justify-content:flex-start;"><div style="transform:scaleX(1.083)"><i>Gerçekleşen Eylemler</i></div></div>
</body></html>
